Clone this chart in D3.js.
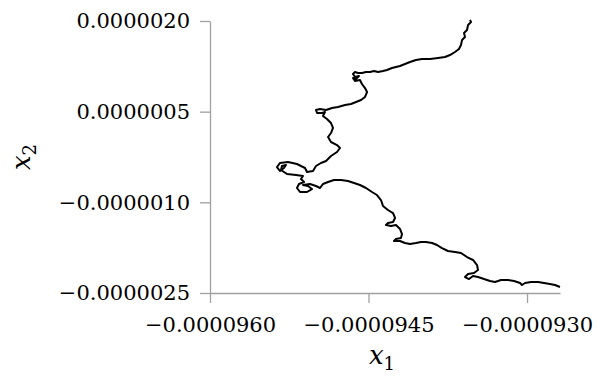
<!DOCTYPE html>
<html lang="en">
<head>
	<meta charset="utf-8">
	<title>Brownian path</title>
	<script type="text/javascript" src="https://cdn.jsdelivr.net/npm/d3@7/dist/d3.min.js"></script>
	<style>
		body { margin: 0; background: #fff; }
		.axis path, .axis line { stroke: #a0a0a0; stroke-width: 1.3; }
		.axis text { font-family: "DejaVu Serif", serif; font-size: 21px; fill: #000; }
		.title { font-family: "DejaVu Serif", serif; font-style: italic; fill: #000; }
	</style>
</head>
<body>
	<div id="chart"></div>

	<script type="text/javascript">

		// path coordinates, in units of 1e-6
		var x1 = [-93.540, -93.530, -93.558, -93.568, -93.596, -93.587, -93.615, -93.625, -93.644, -93.682,
			-93.729, -93.776, -93.842, -93.918, -93.994, -94.051, -94.079, -94.107, -94.155, -94.202,
			-94.240, -94.278, -94.325, -94.363, -94.410, -94.448, -94.486, -94.524, -94.562, -94.600,
			-94.628, -94.647, -94.628, -94.590, -94.618, -94.647, -94.628, -94.581, -94.562, -94.533,
			-94.514, -94.533, -94.571, -94.618, -94.666, -94.722, -94.789, -94.846, -94.902, -94.959,
			-94.997, -94.987, -94.940, -94.912, -94.931, -94.893, -94.855, -94.836, -94.855, -94.883,
			-94.855, -94.798, -94.770, -94.798, -94.855, -94.902, -94.950, -94.997, -95.025, -95.082,
			-95.101, -95.177, -95.262, -95.338, -95.366, -95.338, -95.300, -95.281, -95.319, -95.328,
			-95.271, -95.186, -95.120, -95.139, -95.110, -95.158, -95.177, -95.148, -95.082, -95.035,
			-95.073, -95.120, -95.054, -94.997, -94.959, -94.931, -94.883, -94.827, -94.760, -94.694,
			-94.637, -94.581, -94.524, -94.467, -94.420, -94.382, -94.363, -94.316, -94.268, -94.249,
			-94.268, -94.316, -94.335, -94.287, -94.240, -94.202, -94.183, -94.193, -94.240, -94.259,
			-94.202, -94.155, -94.107, -94.051, -94.003, -93.956, -93.899, -93.852, -93.805, -93.748,
			-93.682, -93.625, -93.568, -93.511, -93.473, -93.464, -93.502, -93.558, -93.587, -93.549,
			-93.511, -93.464, -93.407, -93.350, -93.303, -93.246, -93.180, -93.123, -93.066, -93.048,
			-93.019, -92.962, -92.896, -92.839, -92.783, -92.735, -92.688];

		var x2 = [2.017, 1.983, 1.934, 1.851, 1.801, 1.735, 1.686, 1.603, 1.537, 1.487,
			1.437, 1.404, 1.388, 1.371, 1.371, 1.355, 1.338, 1.322, 1.289, 1.256,
			1.239, 1.222, 1.189, 1.173, 1.156, 1.173, 1.156, 1.156, 1.140, 1.140,
			1.156, 1.123, 1.073, 1.090, 1.040, 1.057, 1.007, 1.024, 0.958, 0.891,
			0.825, 0.743, 0.693, 0.660, 0.627, 0.610, 0.577, 0.561, 0.527, 0.544,
			0.527, 0.478, 0.478, 0.494, 0.428, 0.379, 0.312, 0.230, 0.147, 0.081,
			-0.002, -0.052, -0.101, -0.167, -0.234, -0.316, -0.349, -0.399, -0.482, -0.498,
			-0.432, -0.366, -0.333, -0.349, -0.416, -0.482, -0.432, -0.382, -0.399, -0.465,
			-0.531, -0.548, -0.564, -0.614, -0.664, -0.697, -0.763, -0.829, -0.829, -0.780,
			-0.730, -0.713, -0.697, -0.730, -0.763, -0.697, -0.664, -0.631, -0.631, -0.647,
			-0.680, -0.713, -0.763, -0.829, -0.879, -0.962, -1.061, -1.127, -1.177, -1.259,
			-1.326, -1.342, -1.375, -1.392, -1.375, -1.441, -1.524, -1.590, -1.607, -1.640,
			-1.640, -1.673, -1.690, -1.673, -1.656, -1.656, -1.673, -1.706, -1.756, -1.805,
			-1.822, -1.838, -1.905, -1.954, -2.037, -2.120, -2.169, -2.186, -2.236, -2.269,
			-2.219, -2.236, -2.269, -2.302, -2.318, -2.285, -2.285, -2.302, -2.335, -2.368,
			-2.335, -2.318, -2.318, -2.335, -2.351, -2.368, -2.401];

		var xTicks = [-96, -94.5, -93];
		var yTicks = [2, 0.5, -1, -2.5];

		var w = 615,
		    h = 376;

		var svg = d3.select("#chart")
			.append("svg")
			.attr("width", w)
			.attr("height", h);

		var x = d3.scaleLinear().domain([-96, d3.max(x1)]).range([210, 560]);
		var y = d3.scaleLinear().domain([-2.5, 2]).range([293, 21]);

		var fmt = function(d) { return d3.format(".7f")(d * 1e-6); };

		// axes
		svg.append("g")
			.attr("class", "axis")
			.attr("transform", "translate(0,293)")
			.call(d3.axisBottom(x).tickValues(xTicks).tickFormat(fmt).tickSize(10).tickSizeOuter(0).tickPadding(14));

		svg.append("g")
			.attr("class", "axis")
			.attr("transform", "translate(210,0)")
			.call(d3.axisLeft(y).tickValues(yTicks).tickFormat(fmt).tickSize(10).tickSizeOuter(0).tickPadding(10));

		// path
		var line = d3.line()
			.x(function(d, i) { return x(x1[i]); })
			.y(function(d, i) { return y(x2[i]); });

		svg.append("path")
			.datum(x1)
			.attr("d", line)
			.attr("fill", "none")
			.attr("stroke", "#000")
			.attr("stroke-width", 2)
			.attr("stroke-linejoin", "round");

		// axis titles
		var xt = svg.append("text")
			.attr("class", "title")
			.attr("x", 382)
			.attr("y", 364)
			.attr("text-anchor", "middle")
			.attr("font-size", "26px");
		xt.append("tspan").text("x");
		xt.append("tspan").attr("dy", 6).attr("font-size", "18px").attr("font-style", "normal").text("1");

		var yt = svg.append("text")
			.attr("class", "title")
			.attr("transform", "translate(30,157) rotate(-90)")
			.attr("text-anchor", "middle")
			.attr("font-size", "26px");
		yt.append("tspan").text("x");
		yt.append("tspan").attr("dy", 6).attr("font-size", "18px").attr("font-style", "normal").text("2");
	</script>
</body>
</html>
